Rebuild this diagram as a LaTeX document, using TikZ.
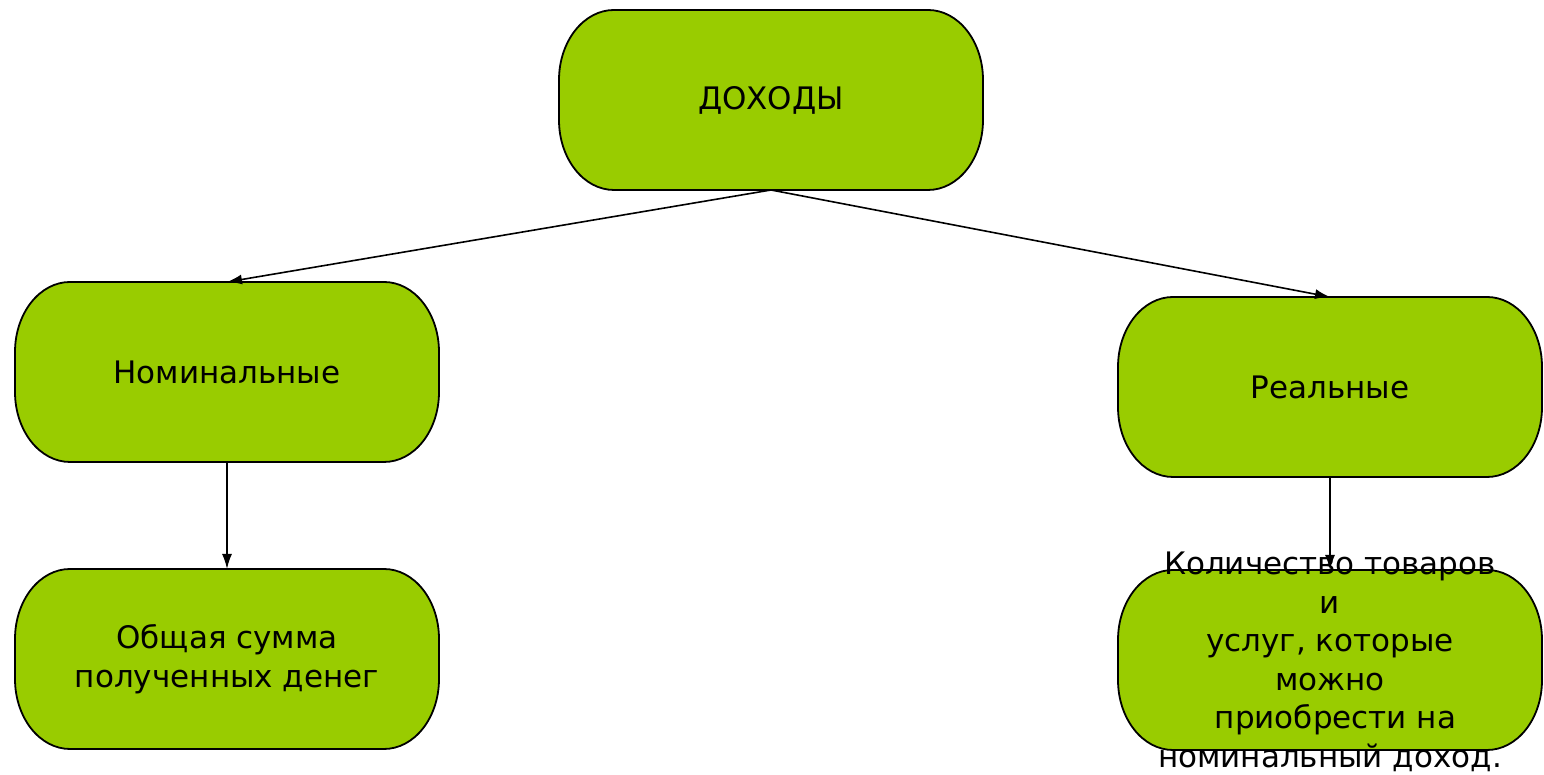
\documentclass[tikz,border=0pt]{standalone}
\usepackage{fontspec}
\setmainfont{DejaVu Sans}
\usetikzlibrary{arrows.meta,backgrounds}
\definecolor{boxgreen}{RGB}{153,204,0}
\tikzset{
  box/.style={minimum width=424pt, minimum height=180pt, inner sep=0pt, outer sep=0pt, align=center,
    font=\fontsize{31}{39}\selectfont},
  txt/.style={inner sep=0pt, align=center, font=\fontsize{31}{38.5}\selectfont},
  conn/.style={draw=black, line width=1.6pt, -{Latex[length=15pt,width=10pt]}},
  shapeline/.style={draw=black, line width=1.8pt, fill=boxgreen}
}
\newcommand{\stadium}[1]{%
  \path[shapeline] ([xshift=55pt]#1.north west) -- ([xshift=-55pt]#1.north east)
    arc[start angle=90,end angle=0,x radius=55pt,y radius=70pt]
    -- ([yshift=70pt]#1.south east)
    arc[start angle=0,end angle=-90,x radius=55pt,y radius=70pt]
    -- ([xshift=55pt]#1.south west)
    arc[start angle=270,end angle=180,x radius=55pt,y radius=70pt]
    -- ([yshift=-70pt]#1.north west)
    arc[start angle=180,end angle=90,x radius=55pt,y radius=70pt] -- cycle;}
\begin{document}
\begin{tikzpicture}[x=1pt,y=1pt]
\useasboundingbox (0,0) rectangle (1544,775);
\node[box] (top) at (771,675) {\raisebox{-4pt}{ДОХОДЫ}};
\node[box] (nom) at (227,403) {\raisebox{-3pt}{Номинальные}};
\node[box] (real) at (1330,388) {\raisebox{-3pt}{Реальные}};
\node[box] (obs) at (227,116) {Общая сумма\\полученных денег};
\node[box] (kol) at (1330,115) {};
\begin{scope}[on background layer]
  \foreach \n in {top,nom,real,obs,kol} {\stadium{\n}}
\end{scope}
\draw[conn] (top.south) -- (nom.north);
\draw[conn] (top.south) -- (real.north);
\draw[conn] (nom.south) -- (obs.north);
\draw[conn] (real.south) -- (kol.north);
\node[txt] (kolt) at (1330,113) {Количество товаров\\и\\услуг, которые\\можно\\\hspace*{0.35em}приобрести на\\номинальный доход.};
\end{tikzpicture}
\end{document}
